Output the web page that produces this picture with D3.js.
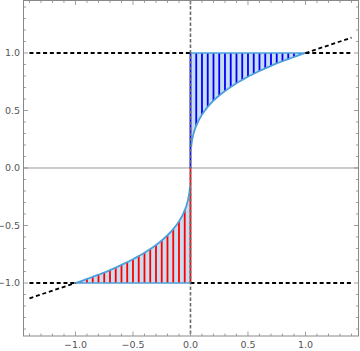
<!DOCTYPE html>
<html>
<head>
<meta charset="utf-8">
<script src="https://d3js.org/d3.v7.min.js"></script>
<style>
  body { margin: 0; background: #fff; }
  text { font-family: "DejaVu Sans", sans-serif; }
</style>
</head>
<body>
<div class="chart"></div>
<script>
// curve samples (upper branch, then lower branch)
var upperX = [0.006, 0.01, 0.025, 0.05, 0.1, 0.15, 0.2, 0.25, 0.3, 0.35, 0.4, 0.45, 0.5, 0.55, 0.6, 0.65, 0.7, 0.75, 0.8, 0.85, 0.9, 0.95, 1.0]
var upperY = [0.18, 0.215, 0.292, 0.368, 0.464, 0.531, 0.585, 0.63, 0.669, 0.705, 0.737, 0.766, 0.794, 0.819, 0.843, 0.866, 0.888, 0.909, 0.928, 0.947, 0.965, 0.983, 1.0]
var lowerX = [-1.0, -0.95, -0.9, -0.85, -0.8, -0.75, -0.7, -0.65, -0.6, -0.55, -0.5, -0.45, -0.4, -0.35, -0.3, -0.25, -0.2, -0.15, -0.1, -0.05, -0.025, -0.01, -0.004]
var lowerY = [-1.0, -0.983, -0.965, -0.947, -0.928, -0.909, -0.888, -0.866, -0.843, -0.819, -0.794, -0.766, -0.737, -0.705, -0.669, -0.63, -0.585, -0.531, -0.464, -0.368, -0.292, -0.215, -0.159]
// hatch lines
var upperStripes = [0, 0.05, 0.1, 0.15, 0.2, 0.25, 0.3, 0.35, 0.4, 0.45, 0.5, 0.55, 0.6, 0.65, 0.7, 0.75, 0.8, 0.85, 0.9, 0.95]
var lowerStripes = [-1.0, -0.95, -0.9, -0.85, -0.8, -0.75, -0.7, -0.65, -0.6, -0.55, -0.5, -0.45, -0.4, -0.35, -0.3, -0.25, -0.2, -0.15, -0.1, -0.05, 0]
// dashed guide lines [x1, y1, x2, y2]
var guides = [
  [-1.4, 1, 0, 1], [1, 1, 1.4, 1], [1, 1, 1.4, 1.1333],
  [-1.4, -1, -1, -1], [0, -1, 1.4, -1], [-1.4, -1.1333, -1, -1]
]
var majorTicks = [-1.0, -0.5, 0.0, 0.5, 1.0]
var tickLabels = ['\u22121.0', '\u22120.5', '0.0', '0.5', '1.0']

var width = 360, height = 351
var pLeft = 23.5, pRight = 358.5, pTop = 0.5, pBottom = 336

var svg = d3.select('.chart').append('svg')
  .attr('width', width).attr('height', height)

var x = d3.scaleLinear().domain([-1.452, 1.461]).range([pLeft, pRight])
var y = d3.scaleLinear().domain([-1.461, 1.4565]).range([pBottom, pTop])

function curveY(xs, ys, v) {
  var i = xs.indexOf(v)
  if (i >= 0) return ys[i]
  return v > 0 ? ys[0] : ys[ys.length - 1]
}

var upper = upperX.map((d, i) => [d, upperY[i]])
var lower = lowerX.map((d, i) => [d, lowerY[i]])

svg.append('clipPath').attr('id', 'clip').append('rect')
  .attr('x', pLeft).attr('y', pTop).attr('width', pRight - pLeft).attr('height', pBottom - pTop)
var plot = svg.append('g').attr('clip-path', 'url(#clip)')

var line = d3.line().x(d => x(d[0])).y(d => y(d[1])).curve(d3.curveMonotoneX)
var poly = d3.line().x(d => x(d[0])).y(d => y(d[1]))

// fills
plot.append('path')
  .attr('d', poly([[0, 1], [1, 1]].concat(upper.slice().reverse()).concat([[0, 0.18]])))
  .attr('fill', '#c8ddef')
plot.append('path')
  .attr('d', poly([[-1, -1], [0, -1], [0, -0.159]].concat(lower.slice().reverse())))
  .attr('fill', '#c8ddef')

// axis at y = 0
plot.append('line')
  .attr('x1', pLeft).attr('x2', pRight).attr('y1', y(0)).attr('y2', y(0))
  .attr('stroke', '#999').attr('stroke-width', 1)

// hatching
plot.selectAll('.us').data(upperStripes).enter().append('line')
  .attr('x1', d => x(d)).attr('x2', d => x(d))
  .attr('y1', d => y(d === 0 ? 0 : curveY(upperX, upperY, d))).attr('y2', y(1))
  .attr('stroke', '#0000ff').attr('stroke-width', 1.8)
plot.selectAll('.ls').data(lowerStripes).enter().append('line')
  .attr('x1', d => x(d)).attr('x2', d => x(d))
  .attr('y1', d => y(d === 0 ? 0 : curveY(lowerX, lowerY, d))).attr('y2', y(-1))
  .attr('stroke', '#ff0000').attr('stroke-width', 1.8)

// curve and edges
plot.append('path').attr('d', line(upper))
  .attr('fill', 'none').attr('stroke', '#4d9fdb').attr('stroke-width', 1.8)
plot.append('path').attr('d', line(lower))
  .attr('fill', 'none').attr('stroke', '#4d9fdb').attr('stroke-width', 1.8)
plot.append('line').attr('x1', x(0)).attr('x2', x(1)).attr('y1', y(1)).attr('y2', y(1))
  .attr('stroke', '#4d9fdb').attr('stroke-width', 1.5)
plot.append('line').attr('x1', x(-1)).attr('x2', x(0)).attr('y1', y(-1)).attr('y2', y(-1))
  .attr('stroke', '#4d9fdb').attr('stroke-width', 1.5)

// dashed guides
plot.selectAll('.g').data(guides).enter().append('line')
  .attr('x1', d => x(d[0])).attr('y1', d => y(d[1]))
  .attr('x2', d => x(d[2])).attr('y2', d => y(d[3]))
  .attr('stroke', '#000').attr('stroke-width', 1.8).attr('stroke-dasharray', '4,2.8')

// vertical dashed at x = 0
plot.append('line')
  .attr('x1', x(0)).attr('x2', x(0)).attr('y1', pTop).attr('y2', pBottom)
  .attr('stroke', '#6a6a6a').attr('stroke-width', 1.6).attr('stroke-dasharray', '3.5,2')

// frame with ticks
var minor = d3.range(-14, 15).map(d => d / 10)
var frame = svg.append('g')
frame.append('rect')
  .attr('x', pLeft).attr('y', pTop).attr('width', pRight - pLeft).attr('height', pBottom - pTop)
  .attr('fill', 'none').attr('stroke', '#888').attr('stroke-width', 1)

function isMajor(d) { return Math.abs(d * 2 - Math.round(d * 2)) < 1e-6 }

minor.forEach(function (d) {
  var len = isMajor(d) ? 4.5 : 2.5
  frame.append('line').attr('x1', x(d)).attr('x2', x(d)).attr('y1', pBottom).attr('y2', pBottom - len)
    .attr('stroke', '#888').attr('stroke-width', 0.8)
  frame.append('line').attr('x1', x(d)).attr('x2', x(d)).attr('y1', pTop).attr('y2', pTop + len)
    .attr('stroke', '#888').attr('stroke-width', 0.8)
  frame.append('line').attr('y1', y(d)).attr('y2', y(d)).attr('x1', pLeft).attr('x2', pLeft + len)
    .attr('stroke', '#888').attr('stroke-width', 0.8)
  frame.append('line').attr('y1', y(d)).attr('y2', y(d)).attr('x1', pRight).attr('x2', pRight - len)
    .attr('stroke', '#888').attr('stroke-width', 0.8)
})

// tick labels
frame.selectAll('.xl').data(majorTicks).enter().append('text')
  .attr('x', d => x(d)).attr('y', 348)
  .attr('text-anchor', 'middle').attr('font-size', 9.5).attr('fill', '#555')
  .text((d, i) => tickLabels[i])
frame.selectAll('.yl').data(majorTicks).enter().append('text')
  .attr('x', 20).attr('y', d => y(d) + 3.5)
  .attr('text-anchor', 'end').attr('font-size', 9.5).attr('fill', '#555')
  .text((d, i) => tickLabels[i])
</script>
</body>
</html>
